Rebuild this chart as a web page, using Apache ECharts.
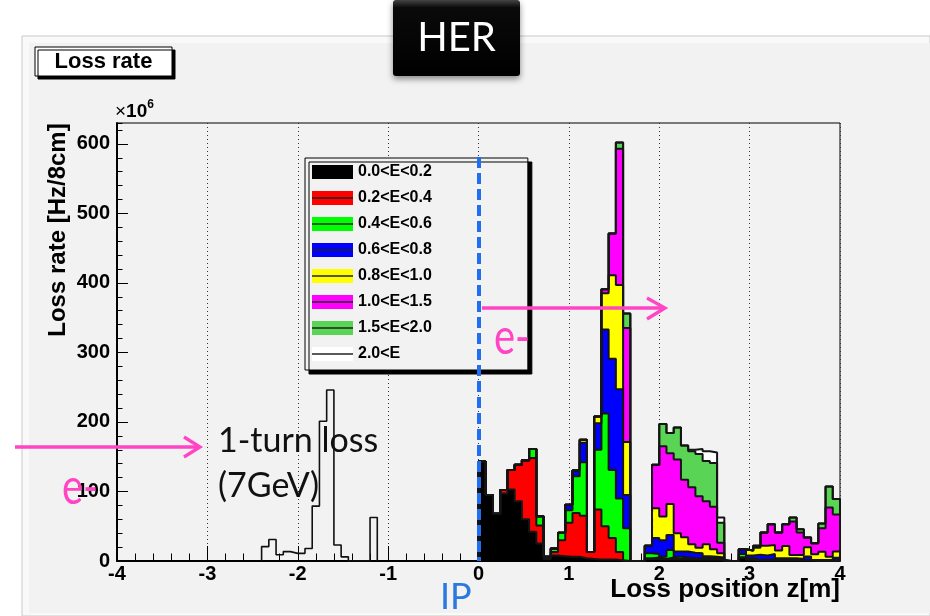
<!DOCTYPE html>
<html><head><meta charset="utf-8">
<script src="https://cdn.jsdelivr.net/npm/echarts@6.0.0/dist/echarts.min.js"></script>
<style>html,body{margin:0;padding:0;background:#fff}#c{width:930px;height:616px}</style>
</head><body><div id="c"></div>
<script>
// ---- data (loss rate, x10^6 Hz per 8 cm bin) ----
const categories = ['0.0<E<0.2','0.2<E<0.4','0.4<E<0.6','0.6<E<0.8','0.8<E<1.0','1.0<E<1.5','1.5<E<2.0','2.0<E'];
const fillColors = ['#000000','#ff0000','#00ff00','#0000ff','#ffff00','#ff00ff','#59d454','#ffffff'];
const binWidth = 0.08;          // 8 cm bins [m]
const firstEdge = 0.0;          // first bin edge of energy-binned histograms [m]
const xTickValues = [-4,-3,-2,-1,0,1,2,3,4];
const yTickValues = [0,100,200,300,400,500,600];
const yMax = 630;

const E00_02 = [143,95,68,97,103,86,60,42,25,3, 8,7,6,6,4,3,2,2,2,1, 0,0,0,3,3,2,3,2,2,2, 2,2,2,1.5,0,0,5,2,1,1, 1,1,1,1,1,1,0.5,0.5,0.5,0.5];
const E02_04 = [0,0,0,5,28,52.5,85,106,26,3, 5,23,49,63,61,10,72,48,31,12, 0,0,0,1,2,1,2,1,1,0.5, 0.5,0.5,0.5,0.5,0,0,0,0,0,0, 0,0,0,0,0,0,0,0,0,0];
const E04_06 = [0,0,0,0,0,0,0,13,13.5,0, 5,10.5,18,53,77,0,86,162,98,77, 47,0,0,7,5,3,11,3,2,1.5, 1.5,1.5,1.5,1,0,0,5,2,1,1, 1,0.5,0.5,0.5,0.5,0.5,0.4,0.4,0.4,0.4];
const E06_08 = [0,0,0,0,0,0,0,0,0,0, 0,0,8,8,28,0,38,121,160,157, 48,0,0,11,23,24,21.5,7.5,8.5,8, 7,3,2,2,0,0,7,4,7,6, 8,2.5,2.5,2.5,1.5,4.8,0.5,0.5,0.5,3.9];
const E08_10 = [0,0,0,0,0,0,0,0,0,0, 0,0,0,0,4.5,0,10,52,120,150, 76,0,0,0,43,34,44.5,26.5,20.5,12, 8,17,11,6,0,0,0,7,10,14, 13,11,17.6,4.7,5.7,13.4,8.2,12,4.85,8.7];
const E10_15 = [0,0,0,0,0,0,0,0,0,0, 0,0,0,0,0,0,0,6,60,196, 164,0,0,0,62.5,101,73,106,83,82, 74,62,61,15.4,0,0,0,0,3,19, 30,26,31.4,48,32.3,14,15.9,33.6,70.75,53.5];
const E15_20 = [0,0,0,0,0,0,0,0,0,0, 0,0,0,0,0,0,0,0,0,9, 21,0,0,0,0,32,29,46,49,52, 61,58,63,28.6,0,0,0,0,0,0, 0,0,0,5.8,4.7,0,0,7,30,22];
const E20_up = [0,0,0,0,0,0,0,0,0,0, 0,0,0,0,0,0,0,0,0,0, 0,0,0,0,0,0,0,0,0,2, 7,14,15,7.5,0,0,0,0,0,0, 0,0,0,0,0,0,0,0,0,0];

const turnLossStart = -2.4;     // 1-turn loss (7GeV) histogram
const turnLoss = [20.7,31,9,13.5,11,11,18,79,201,246,23,6,0,0,0,62.5];
const ipPosition = 0;

// ---- build ----
const energySeries = [E00_02,E02_04,E04_06,E06_08,E08_10,E10_15,E15_20,E20_up];
const cum = [];
energySeries.forEach((arr, c) => {
  cum.push(arr.map((v, i) => v + (c ? cum[c-1][i] : 0)));
});
function stepPoints(values, start) {
  const pts = [[start, 0]];
  values.forEach((v, i) => pts.push([+(start + i*binWidth).toFixed(3), v]));
  pts.push([+(start + values.length*binWidth).toFixed(3), 0]);
  return pts;
}
const F = '"Liberation Sans", Arial, sans-serif';
const pink = '#ff45c4';
const series = [];
for (let c = categories.length - 1; c >= 0; c--) {
  series.push({
    name: categories[c], type: 'line', step: 'end', symbol: 'none', silent: true,
    data: stepPoints(cum[c], firstEdge),
    lineStyle: {color: '#151515', width: 2},
    itemStyle: {color: fillColors[c]},
    areaStyle: {color: fillColors[c], opacity: 1, origin: 'start'},
    emphasis: {disabled: true}
  });
}
series.push({
  name: '1-turn loss (7GeV)', type: 'line', step: 'end', symbol: 'none', silent: true,
  data: stepPoints(turnLoss, turnLossStart),
  lineStyle: {color: '#111', width: 1.6},
  emphasis: {disabled: true},
  markLine: {
    silent: true, symbol: ['none','none'], label: {show: false}, animation: false,
    lineStyle: {color: '#1f6ff0', width: 4, type: [11,5]},
    data: [[{coord: [ipPosition, 581]}, {coord: [ipPosition, 0]}]]
  }
});

// legend layout
const LG = {left: 305, top: 158, padTop: 6, rowH: 16, gap: 10, swLeft: 312, swW: 41};
const legendLines = categories.slice(1).map((n, k) => {
  const i = k + 1;
  const yc = LG.top + LG.padTop + LG.rowH/2 + i*(LG.rowH + LG.gap);
  return {type: 'line', z: 80, silent: true, shape: {x1: LG.swLeft, y1: yc, x2: LG.swLeft + LG.swW, y2: yc}, style: {stroke: '#222', lineWidth: 1.5}};
});

const chart = echarts.init(document.getElementById('c'), null, {renderer: 'canvas'});
chart.setOption({
  animation: false,
  backgroundColor: '#ffffff',
  grid: {left: 117, right: 90, top: 123, bottom: 55, show: true, borderColor: '#000', borderWidth: 1,
         backgroundColor: 'transparent', containLabel: false, outerBoundsMode: 'none'},
  xAxis: {
    type: 'value', min: xTickValues[0], max: xTickValues[xTickValues.length-1],
    interval: xTickValues[1] - xTickValues[0],
    axisLine: {show: true, onZero: false, lineStyle: {color: '#000', width: 2}},
    axisTick: {show: true, inside: true, length: 15, lineStyle: {color: '#000', width: 1}},
    minorTick: {show: true, splitNumber: 5, length: 7.5, lineStyle: {color: '#000', width: 1}},
    axisLabel: {fontFamily: F, fontWeight: 'bold', fontSize: 20, color: '#000', margin: 3},
    splitLine: {show: true, lineStyle: {color: '#333', width: 1, type: [1,3]}}
  },
  yAxis: [{
    type: 'value', min: yTickValues[0], max: yMax, interval: yTickValues[1] - yTickValues[0],
    axisLine: {show: true, onZero: false, lineStyle: {color: '#000', width: 2}},
    axisTick: {show: true, inside: true, length: 11, lineStyle: {color: '#000', width: 1}},
    axisLabel: {fontFamily: F, fontWeight: 'bold', fontSize: 20, color: '#000', margin: 7, showMaxLabel: false},
    splitLine: {show: false}
  }, {
    type: 'value', min: yTickValues[0], max: yMax, interval: 20, position: 'left',
    axisLine: {show: false, onZero: false},
    axisTick: {show: true, inside: true, length: 5.5, lineStyle: {color: '#000', width: 1}},
    axisLabel: {show: false}, splitLine: {show: false}
  }],
  legend: {
    orient: 'vertical', left: LG.left, top: LG.top, selectedMode: false,
    padding: [LG.padTop, 96, 8, 7], itemWidth: LG.swW, itemHeight: 14, itemGap: LG.gap,
    backgroundColor: '#f2f2f2', borderColor: '#000', borderWidth: 1,
    shadowColor: '#000', shadowOffsetX: 4, shadowOffsetY: 4, shadowBlur: 0,
    textStyle: {fontFamily: F, fontWeight: 'bold', fontSize: 16, color: '#000', lineHeight: LG.rowH},
    data: categories.map((n, i) => ({name: n, icon: 'rect', itemStyle: {color: fillColors[i], borderWidth: 0}}))
  },
  graphic: [
    {type: 'rect', z: -20, silent: true, shape: {x: 22, y: 36, width: 908, height: 580}, style: {fill: '#f9f9f9', stroke: '#c9c9c9', lineWidth: 1}},
    {type: 'rect', z: -19, silent: true, shape: {x: 29, y: 43, width: 901, height: 570}, style: {fill: '#f2f2f2'}},
    {type: 'rect', z: 50, shape: {x: 35, y: 47, width: 137, height: 29}, style: {fill: '#fff', stroke: '#000', lineWidth: 1, shadowColor: '#000', shadowOffsetX: 3, shadowOffsetY: 3, shadowBlur: 0}},
    {type: 'text', z: 51, x: 103.5, y: 62, style: {text: 'Loss rate', font: 'bold 22px ' + F, fill: '#000', align: 'center', verticalAlign: 'middle'}},
    {type: 'text', z: 51, x: 115, y: 99, style: {text: '{a|×}{b|10}{c|6}', rich: {
      a: {fontFamily: F, fontSize: 19, fill: '#000', verticalAlign: 'bottom', lineHeight: 22},
      b: {fontFamily: F, fontWeight: 'bold', fontSize: 19, fill: '#000', verticalAlign: 'bottom', lineHeight: 22},
      c: {fontFamily: F, fontWeight: 'bold', fontSize: 12, fill: '#000', verticalAlign: 'top', lineHeight: 12}}}},
    {type: 'text', z: 51, x: 58, y: 230, rotation: Math.PI/2, style: {text: 'Loss rate [Hz/8cm]', font: 'bold 24px ' + F, fill: '#000', align: 'center', verticalAlign: 'middle'}},
    {type: 'text', z: 51, x: 840, y: 590, style: {text: 'Loss position z[m]', font: 'bold 26px ' + F, fill: '#000', align: 'right', verticalAlign: 'middle'}},
    {type: 'rect', z: 60, shape: {x: 393, y: 0, width: 127, height: 76, r: 3}, style: {
      fill: {type: 'linear', x: 0, y: 0, x2: 0, y2: 1, colorStops: [{offset: 0, color: '#444'}, {offset: 0.1, color: '#0a0a0a'}, {offset: 1, color: '#000'}]},
      shadowColor: 'rgba(0,0,0,0.45)', shadowBlur: 6, shadowOffsetY: 3}},
    {type: 'text', z: 61, x: 456.5, y: 38, style: {text: 'HER', font: '40px Lato', fill: '#fff', align: 'center', verticalAlign: 'middle'}},
    {type: 'line', z: 70, shape: {x1: 15, y1: 447, x2: 199, y2: 447}, style: {stroke: pink, lineWidth: 3.3}},
    {type: 'polyline', z: 70, shape: {points: [[184,437],[200,447],[184,457]]}, style: {stroke: pink, lineWidth: 3.3, fill: null}},
    {type: 'line', z: 70, shape: {x1: 482, y1: 308, x2: 664, y2: 308}, style: {stroke: pink, lineWidth: 3.3}},
    {type: 'polyline', z: 70, shape: {points: [[647,298],[665,308],[647,319]]}, style: {stroke: pink, lineWidth: 3.3, fill: null}},
    {type: 'text', z: 70, x: 218, y: 441, style: {text: '1-turn loss', font: '34px Lato', fill: '#111', align: 'left', verticalAlign: 'middle'}},
    {type: 'text', z: 70, x: 218, y: 486, style: {text: '(7GeV)', font: '34px Lato', fill: '#111', align: 'left', verticalAlign: 'middle'}},
    {type: 'text', z: 70, x: 494, y: 338, scaleY: 1.25, style: {text: 'e-', font: '40px Lato', fill: pink, align: 'left', verticalAlign: 'middle'}},
    {type: 'text', z: 70, x: 62, y: 488, scaleY: 1.25, style: {text: 'e-', font: '40px Lato', fill: pink, align: 'left', verticalAlign: 'middle'}},
    {type: 'text', z: 70, x: 440, y: 597, style: {text: 'IP', font: '36px Lato', fill: '#2a78e0', align: 'left', verticalAlign: 'middle'}}
  ].concat(legendLines),
  series: series
});
</script></body></html>
